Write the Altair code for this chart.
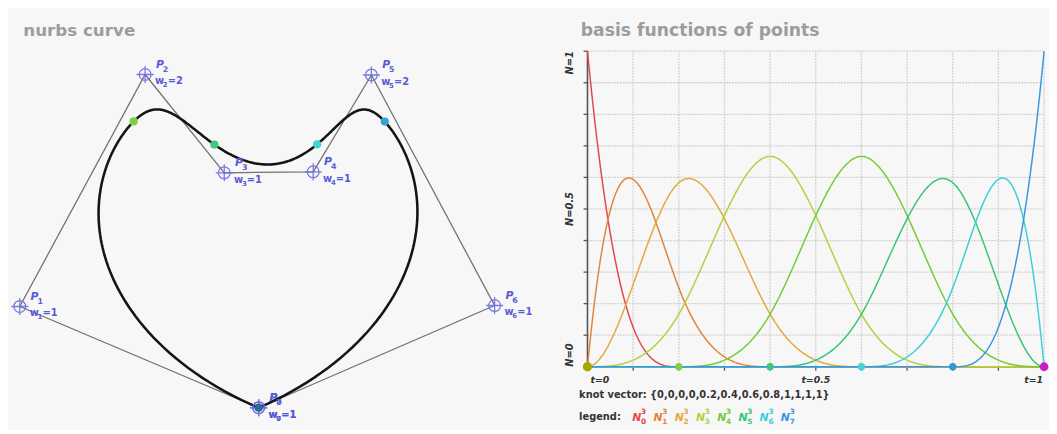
import altair as alt
import numpy as np
import pandas as pd

# ---------------- data ----------------
point_ids = [0, 1, 2, 3, 4, 5, 6, 7]
point_x = [0.0, -2.43, -1.155, -0.35, 0.555, 1.147, 2.40, 0.0]
point_y = [0.0, 1.03, 3.39, 2.39, 2.40, 3.385, 1.04, 0.0]
weights = [1, 1, 2, 1, 1, 2, 1, 1]
knots = [0, 0, 0, 0, 0.2, 0.4, 0.6, 0.8, 1, 1, 1, 1]
degree = 3

basis_names = ["N0", "N1", "N2", "N3", "N4", "N5", "N6", "N7"]
basis_colors = ["#e4474a", "#e2843a", "#e2aa3e", "#b0d23a", "#74cc34",
                "#34c874", "#3ccfd8", "#3a97dc"]

knot_dot_t = [0.0, 0.2, 0.4, 0.6, 0.8, 1.0]
knot_dot_colors = ["#a8a400", "#86cc46", "#44c47c", "#44d2d2", "#3496d2", "#c81ec8"]
knot_dot_sizes = [90, 55, 55, 55, 55, 80]

curve_dot_t = [0.0, 0.2, 0.4, 0.6, 0.8]
curve_dot_colors = ["#2e6a8e", "#7cd048", "#40c87c", "#40d6d6", "#30a6d8"]

grid_values = [0.1, 0.2, 0.3, 0.4, 0.5, 0.6, 0.7, 0.8, 0.9, 1.0]
x_tick_values = [0.1, 0.2, 0.3, 0.4, 0.5, 0.6, 0.7, 0.8, 0.9]
t_labels = ["t=0", "t=0.5", "t=1"]
t_label_pos = [0.0, 0.5, 1.0]
n_labels = ["N=0", "N=0.5", "N=1"]
n_label_pos = [0.0, 0.5, 1.0]
label_aligns = ["left", "center", "right"]
knot_vector_text = "knot vector: {0,0,0,0,0.2,0.4,0.6,0.8,1,1,1,1}"

FONT = "DejaVu Sans"


# ---------------- B-spline / NURBS ----------------
def bspline_basis(i, k, t):
    if k == 0:
        lo, hi = knots[i], knots[i + 1]
        v = ((t >= lo) & (t < hi)).astype(float)
        if hi == knots[-1] and hi > lo:
            v[t == hi] = 1.0
        return v
    out = np.zeros_like(t, dtype=float)
    d1 = knots[i + k] - knots[i]
    if d1 > 0:
        out += (t - knots[i]) / d1 * bspline_basis(i, k - 1, t)
    d2 = knots[i + k + 1] - knots[i + 1]
    if d2 > 0:
        out += (knots[i + k + 1] - t) / d2 * bspline_basis(i + 1, k - 1, t)
    return out


def nurbs(t):
    t = np.asarray(t, dtype=float)
    B = np.array([bspline_basis(i, degree, t) for i in range(len(point_x))])
    W = np.array(weights, dtype=float)[:, None]
    den = (B * W).sum(0)
    cx = (B * W * np.array(point_x)[:, None]).sum(0) / den
    cy = (B * W * np.array(point_y)[:, None]).sum(0) / den
    return cx, cy


t_grid = np.linspace(0.0, 1.0, 401)
cx, cy = nurbs(t_grid)
curve_df = pd.DataFrame({"x": cx, "y": cy, "k": np.arange(len(t_grid))})

bx, by = nurbs(curve_dot_t)
curve_dots_df = pd.DataFrame({"x": bx, "y": by, "c": curve_dot_colors})

pts_df = pd.DataFrame({"id": point_ids, "x": point_x, "y": point_y,
                       "sub": [str(i) for i in point_ids],
                       "wval": ["=" + str(w) for w in weights]})

rows = []
for i, name in enumerate(basis_names):
    vals = bspline_basis(i, degree, t_grid)
    for tv, nv in zip(t_grid, vals):
        rows.append({"t": tv, "N": nv, "name": name, "c": basis_colors[i]})
basis_df = pd.DataFrame(rows)

# ---------------- left panel ----------------
xs_l = alt.Scale(domain=[-2.5, 2.72], nice=False, zero=False)
ys_l = alt.Scale(domain=[-0.15, 4.03], nice=False, zero=False)


def XL(f):
    return alt.X(f, type="quantitative", scale=xs_l, axis=None)


def YL(f):
    return alt.Y(f, type="quantitative", scale=ys_l, axis=None)


polygon = alt.Chart(pts_df).mark_line(color="#727272", strokeWidth=1.3).encode(
    x=XL("x"), y=YL("y"), order=alt.Order("id:Q"))
curve = alt.Chart(curve_df).mark_line(color="#151515", strokeWidth=2.6).encode(
    x=XL("x"), y=YL("y"), order=alt.Order("k:Q"))
curve_dots = alt.Chart(curve_dots_df).mark_circle(size=70, opacity=1).encode(
    x=XL("x"), y=YL("y"), color=alt.Color("c:N", scale=None))
CROSS = "M-1,0A1,1,0,1,1,1,0A1,1,0,1,1,-1,0M-1.45,0L1.45,0M0,-1.45L0,1.45"
markers = alt.Chart(pts_df).mark_point(shape=CROSS, size=144, filled=False,
                                       color="#6b6be6", strokeWidth=1.3, opacity=0.9).encode(
    x=XL("x"), y=YL("y"))
lab_color = "#5a5ad8"
p_lab = alt.Chart(pts_df).mark_text(text="P", align="left", baseline="middle", dx=11, dy=-10,
                                    font=FONT, fontSize=11, fontWeight="bold", fontStyle="italic",
                                    color=lab_color).encode(x=XL("x"), y=YL("y"))
p_sub = alt.Chart(pts_df).mark_text(align="left", baseline="middle", dx=18, dy=-5,
                                    font=FONT, fontSize=8, fontWeight="bold",
                                    color=lab_color).encode(x=XL("x"), y=YL("y"), text="sub:N")
w_lab = alt.Chart(pts_df).mark_text(text="w", align="left", baseline="middle", dx=10, dy=7,
                                    font=FONT, fontSize=10, fontWeight="bold",
                                    color=lab_color).encode(x=XL("x"), y=YL("y"))
w_sub = alt.Chart(pts_df).mark_text(align="left", baseline="middle", dx=18, dy=11,
                                    font=FONT, fontSize=7, fontWeight="bold",
                                    color=lab_color).encode(x=XL("x"), y=YL("y"), text="sub:N")
w_val = alt.Chart(pts_df).mark_text(align="left", baseline="middle", dx=23, dy=7,
                                    font=FONT, fontSize=10, fontWeight="bold",
                                    color=lab_color).encode(x=XL("x"), y=YL("y"), text="wval:N")
title_l = alt.Chart(pd.DataFrame({"s": ["nurbs curve"]})).mark_text(
    align="left", baseline="alphabetic", font=FONT, fontSize=17, fontWeight="bold",
    color="#9c9c9c").encode(x=alt.value(10.5), y=alt.value(25), text="s:N")

left = alt.layer(polygon, curve, markers, curve_dots, p_lab, p_sub, w_lab, w_sub, w_val,
                 title_l).properties(width=522, height=418)

# ---------------- right panel ----------------
xs_r = alt.Scale(domain=[0, 1], range=[55.5, 520], nice=False, zero=False)
ys_r = alt.Scale(domain=[0, 1], range=[361.3, 40.3], nice=False, zero=False)


def XR(f):
    return alt.X(f, type="quantitative", scale=xs_r, axis=None)


def YR(f):
    return alt.Y(f, type="quantitative", scale=ys_r, axis=None)


hgrid = alt.Chart(pd.DataFrame({"N": grid_values, "t0": 0.0, "t1": 1.0})).mark_rule(
    color="#d2d2d2", strokeWidth=1.3, strokeDash=[2, 1]).encode(
    x=XR("t0"), x2="t1:Q", y=YR("N"))
vgrid = alt.Chart(pd.DataFrame({"t": grid_values, "n0": 0.0, "n1": 1.0})).mark_rule(
    color="#d2d2d2", strokeWidth=1.3, strokeDash=[2, 1]).encode(
    x=XR("t"), y=YR("n0"), y2="n1:Q")
axis_line = alt.Chart(pd.DataFrame({"t": [0.0], "n0": [0.0], "n1": [1.0]})).mark_rule(
    color="#555555", strokeWidth=1.6).encode(x=XR("t"), y=YR("n0"), y2="n1:Q")
y_ticks = alt.Chart(pd.DataFrame({"t": 0.0, "N": grid_values})).mark_point(
    shape="M-1,0L0,0", size=64, filled=False, color="#555555", strokeWidth=1.3, opacity=1).encode(
    x=XR("t"), y=YR("N"))
x_ticks = alt.Chart(pd.DataFrame({"t": x_tick_values, "N": 0.0})).mark_point(
    shape="M0,0L0,1", size=64, filled=False, color="#555555", strokeWidth=1.3, opacity=1).encode(
    x=XR("t"), y=YR("N"))

basis_lines = alt.Chart(basis_df).mark_line(strokeWidth=1.5).encode(
    x=XR("t"), y=YR("N"), color=alt.Color("c:N", scale=None), detail="name:N")

knot_dots = alt.Chart(pd.DataFrame({"t": knot_dot_t, "N": 0.0, "c": knot_dot_colors,
                                    "s": knot_dot_sizes})).mark_circle(opacity=1).encode(
    x=XR("t"), y=YR("N"), color=alt.Color("c:N", scale=None), size=alt.Size("s:Q", scale=None))

text_layers = []
for lab, pos, al in zip(n_labels, n_label_pos, label_aligns):
    text_layers.append(alt.Chart(pd.DataFrame({"N": [pos], "s": [lab]})).mark_text(
        angle=270, align=al, baseline="middle", font=FONT, fontSize=10, fontWeight="bold",
        fontStyle="italic", color="#333333").encode(x=alt.value(38), y=YR("N"), text="s:N"))
for lab, pos, al in zip(t_labels, t_label_pos, label_aligns):
    dx = 3 if al == "left" else (-1 if al == "right" else 0)
    text_layers.append(alt.Chart(pd.DataFrame({"t": [pos], "s": [lab]})).mark_text(
        align=al, baseline="middle", dx=dx, font=FONT, fontSize=9.5, fontWeight="bold",
        fontStyle="italic", color="#333333").encode(x=XR("t"), y=alt.value(375), text="s:N"))

kv_text = alt.Chart(pd.DataFrame({"s": [knot_vector_text]})).mark_text(
    align="left", baseline="middle", font=FONT, fontSize=10, fontWeight="bold",
    color="#333333").encode(x=alt.value(47), y=alt.value(390), text="s:N")
legend_word = alt.Chart(pd.DataFrame({"s": ["legend:"]})).mark_text(
    align="left", baseline="middle", font=FONT, fontSize=10, fontWeight="bold",
    color="#333333").encode(x=alt.value(47), y=alt.value(412), text="s:N")

leg_df = pd.DataFrame({"i": list(range(8)), "c": basis_colors,
                       "sub": [str(i) for i in range(8)]})
leg_base = alt.Chart(leg_df).transform_calculate(lt="0.098 + 0.0465 * datum.i")
leg_N = leg_base.mark_text(text="N", align="left", baseline="middle", font=FONT, fontSize=11,
                           fontWeight="bold", fontStyle="italic").encode(
    x=XR("lt"), y=alt.value(413), color=alt.Color("c:N", scale=None))
leg_sup = leg_base.mark_text(text="3", align="left", baseline="middle", dx=9, font=FONT,
                             fontSize=7.5, fontWeight="bold").encode(
    x=XR("lt"), y=alt.value(407), color=alt.Color("c:N", scale=None))
leg_sub = leg_base.mark_text(align="left", baseline="middle", dx=9, font=FONT,
                             fontSize=7.5, fontWeight="bold").encode(
    x=XR("lt"), y=alt.value(418), color=alt.Color("c:N", scale=None), text="sub:N")

title_r = alt.Chart(pd.DataFrame({"s": ["basis functions of points"]})).mark_text(
    align="left", baseline="alphabetic", font=FONT, fontSize=17.5, fontWeight="bold",
    color="#9c9c9c").encode(x=alt.value(48.7), y=alt.value(25), text="s:N")

right = alt.layer(hgrid, vgrid, axis_line, y_ticks, x_ticks, basis_lines, knot_dots,
                  *text_layers, kv_text, legend_word, leg_N, leg_sup, leg_sub,
                  title_r).properties(width=519, height=418)

chart = alt.hconcat(left, right, spacing=0).properties(
    padding=0, background="#f7f7f7").configure_view(stroke=None)

chart.save("out.html", embed_options={"renderer": "svg", "actions": False})
